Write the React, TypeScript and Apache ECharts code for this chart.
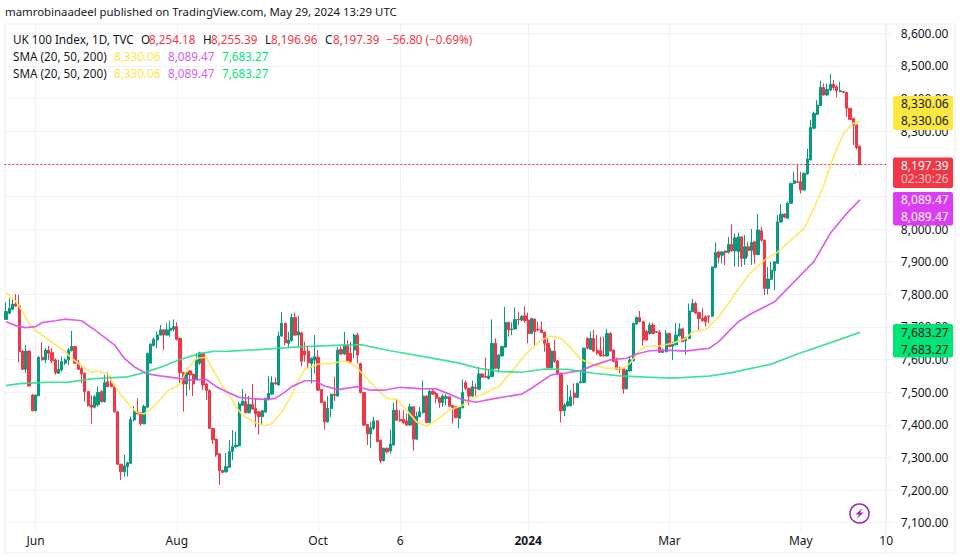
import React, { useEffect, useRef } from "react";
import * as echarts from "echarts";

// [open, close, low, high]
const candlesA = [
[7723,7747,7723,7775],[7742,7757,7739,7788],[7754,7770,7750,7788],[7770,7764,7762,7801],[7764,7624,7591,7798],[7626,7570,7568,7630],[7570,7626,7558,7645],[7626,7519,7517,7628],[7491,7443,7441,7495],[7443,7491,7441,7493],
[7489,7607,7487,7610],[7607,7599,7597,7653],[7599,7629,7589,7635],[7629,7619,7599,7642],[7621,7596,7589,7635],[7599,7560,7553,7604],[7558,7570,7556,7599],[7568,7594,7563,7609],[7589,7599,7583,7604],[7599,7629,7583,7635],
[7627,7640,7625,7688],[7640,7589,7586,7642],[7589,7570,7568,7599],[7573,7556,7527,7580],[7558,7502,7471,7560],[7502,7458,7456,7504],[7461,7454,7403,7491],[7454,7486,7450,7492],[7461,7499,7456,7517],[7502,7471,7468,7507],
[7471,7529,7468,7553],[7532,7517,7515,7560],[7527,7517,7515,7548],[7517,7440,7437,7519],[7440,7279,7277,7442],[7279,7256,7231,7281],[7256,7274,7241,7308],[7272,7284,7241,7287],[7282,7417,7280,7425],[7415,7440,7410,7458],
[7439,7433,7431,7481],[7437,7403,7397,7439],[7403,7456,7402,7461],[7454,7619,7452,7621],[7589,7647,7586,7650],[7643,7662,7640,7668],[7660,7675,7635,7686],[7675,7691,7674,7706],[7691,7675,7629,7693],[7675,7691,7674,7711],
[7689,7696,7670,7719],[7693,7701,7686,7723],[7701,7662,7658,7714],[7665,7560,7527,7667],[7560,7525,7440,7562],[7525,7560,7488,7563],[7565,7553,7507,7568],[7555,7525,7488,7558],[7539,7599,7537,7619],[7589,7621,7583,7624],
[7619,7522,7507,7621],[7525,7505,7476,7529],[7505,7389,7387,7509],[7389,7354,7341,7391],[7356,7308,7302,7358],[7311,7260,7216,7313],[7260,7254,7251,7262],[7256,7272,7253,7313],[7270,7318,7267,7354],[7318,7333,7292,7384],
[7333,7338,7328,7379],[7336,7464,7333,7471],
];
const candlesB = [
[7460,7473,7458,7510],[7471,7437,7435,7496],[7437,7463,7435,7488],[7463,7448,7447,7525],[7450,7433,7392,7481],[7440,7425,7369,7442],[7425,7443,7399,7445],[7439,7481,7437,7483],[7478,7496,7474,7549],[7494,7529,7491,7549],
[7529,7525,7523,7545],[7522,7672,7520,7685],[7672,7711,7670,7746],[7711,7652,7644,7713],[7650,7660,7639,7685],[7658,7729,7655,7741],[7729,7675,7672,7744],[7675,7685,7642,7733],[7682,7595,7580,7684],[7626,7614,7593,7655],
[7626,7590,7573,7641],[7588,7604,7527,7606],[7598,7609,7558,7675],[7607,7506,7504,7629],[7508,7468,7466,7510],[7470,7409,7386,7472],[7409,7450,7406,7488],[7450,7494,7423,7496],[7494,7490,7473,7547],[7488,7629,7486,7639],
[7631,7617,7614,7641],[7617,7644,7614,7685],[7644,7596,7590,7660],[7619,7593,7586,7655],[7629,7675,7604,7680],[7675,7614,7588,7682],[7588,7499,7496,7590],[7499,7399,7397,7501],[7401,7372,7338,7403],[7372,7391,7328,7409],
[7389,7412,7384,7425],[7412,7348,7347,7414],[7353,7290,7282,7355],[7290,7328,7287,7330],[7328,7317,7312,7331],[7320,7341,7312,7386],[7338,7445,7336,7468],[7445,7414,7412,7478],[7417,7412,7409,7445],[7416,7406,7404,7445],
[7412,7399,7396,7435],[7399,7455,7396,7464],[7455,7356,7320,7457],[7356,7427,7353,7440],[7425,7440,7423,7455],[7437,7488,7435,7535],[7488,7407,7406,7491],[7407,7503,7404,7508],[7503,7494,7491,7512],[7496,7481,7466,7501],
[7483,7468,7452,7486],[7468,7488,7455,7494],[7481,7486,7460,7494],[7486,7457,7455,7488],[7459,7453,7404,7460],[7455,7422,7420,7457],[7420,7453,7389,7455],[7452,7499,7450,7539],[7529,7512,7506,7535],[7512,7488,7460,7514],
];
const candlesC = [
[7488,7517,7486,7535],[7515,7512,7484,7527],[7509,7556,7507,7578],[7556,7546,7543,7558],[7548,7546,7543,7607],[7542,7550,7539,7570],[7548,7650,7546,7723],[7650,7573,7571,7665],[7573,7614,7560,7616],[7611,7640,7609,7642],
[7638,7714,7636,7762],[7714,7691,7670,7716],[7691,7694,7675,7714],[7694,7723,7691,7760],[7724,7722,7706,7745],[7721,7732,7716,7737],[7734,7719,7713,7764],[7721,7680,7650,7744],[7680,7726,7678,7728],[7724,7686,7642,7726],
[7693,7691,7686,7716],[7691,7683,7681,7716],[7684,7650,7624,7686],[7650,7575,7573,7665],[7575,7626,7573,7635],[7626,7594,7589,7660],[7596,7556,7553,7599],[7558,7443,7407,7560],[7443,7461,7427,7466],[7458,7471,7456,7522],
[7458,7486,7456,7507],[7497,7484,7461,7527],[7484,7527,7481,7529],[7529,7532,7527,7568],[7530,7635,7527,7637],[7665,7635,7631,7668],[7631,7665,7629,7686],[7665,7626,7624,7691],[7629,7619,7614,7675],[7627,7611,7609,7670],
[7614,7611,7609,7670],[7611,7680,7609,7694],[7680,7626,7624,7684],[7629,7594,7592,7631],[7596,7570,7568,7606],[7573,7571,7558,7578],[7573,7510,7495,7575],[7510,7568,7509,7570],[7565,7599,7563,7611],[7596,7711,7594,7713],
[7709,7729,7706,7732],[7729,7716,7714,7749],[7716,7660,7643,7718],[7686,7660,7657,7691],[7680,7706,7675,7714],[7706,7680,7678,7713],[7686,7684,7682,7688],[7684,7622,7621,7691],[7622,7627,7620,7635],[7624,7680,7622,7691],
[7680,7640,7637,7682],[7640,7647,7599,7655],[7645,7675,7643,7711],[7673,7694,7670,7711],[7694,7655,7653,7696],[7657,7667,7614,7670],[7665,7749,7662,7772],[7747,7772,7745,7786],[7772,7742,7740,7778],[7744,7726,7691,7746],
];
const candlesD = [
[7726,7719,7716,7757],[7731,7716,7701,7736],[7733,7731,7711,7735],[7733,7884,7731,7886],[7882,7928,7879,7959],[7930,7913,7895,7933],[7920,7930,7895,7933],[7933,7928,7890,7935],[7928,7953,7925,7976],[7953,7933,7930,8015],
[7933,7973,7884,7987],[7931,7976,7884,7989],[7976,7910,7884,7978],[7910,7946,7890,7982],[7946,7934,7915,7961],[7934,7959,7890,8000],[7961,7922,7895,7963],[7922,7997,7920,8046],[7995,7966,7961,8007],[7966,7818,7798,7968],
[7818,7847,7800,7884],[7846,7874,7844,7900],[7872,7900,7813,7902],[7895,8022,7893,8043],[8022,8046,8019,8077],[8046,8036,8033,8048],[8033,8079,8031,8084],[8079,8140,8077,8142],[8140,8148,8138,8176],[8145,8143,8142,8199],
[8145,8120,8109,8176],[8120,8171,8117,8173],[8169,8215,8166,8247],[8212,8311,8211,8334],[8309,8355,8306,8360],[8352,8380,8349,8395],[8378,8434,8377,8455],[8434,8411,8409,8446],[8411,8428,8409,8446],[8426,8444,8424,8475],
[8444,8434,8426,8457],[8436,8424,8404,8441],[8421,8424,8419,8452],[8421,8419,8416,8423],[8419,8370,8344,8421],[8370,8336,8334,8372],[8339,8319,8257,8341],[8319,8250,8244,8321],[8254.18,8197.39,8196.96,8255.39],
];

// [bar, value]
const sma20 = [
[0,7805],[3,7778],[5,7747],[7,7711],[9,7689],[13,7660],[18,7624],[20,7604],[23,7580],[26,7561],[28,7564],[31,7555],[33,7522],[35,7491],[38,7456],[40,7437],[42,7433],[45,7456],[49,7502],[53,7525],[55,7568],[58,7604],[61,7607],[63,7568],[66,7517],[68,7491],[70,7455],[72,7430],[76,7406],[79,7397],[81,7404],[84,7440],[87,7491],[89,7537],[91,7570],[95,7586],[99,7588],[103,7596],[106,7583],[109,7552],[113,7508],[116,7481],[119,7478],[122,7445],[125,7409],[128,7396],[131,7414],[135,7445],[139,7460],[143,7486],[146,7497],[148,7509],[150,7517],[154,7563],[158,7614],[163,7660],[166,7672],[169,7665],[172,7635],[175,7601],[179,7583],[183,7573],[188,7573],[190,7589],[193,7629],[195,7640],[199,7642],[203,7650],[207,7665],[209,7685],[213,7692],[217,7731],[220,7772],[223,7818],[227,7869],[231,7905],[235,7930],[239,7966],[243,8002],[246,8063],[249,8135],[252,8222],[255,8293],[258,8324],[260,8330.06],
];
const sma50 = [
[0,7716],[3,7704],[6,7698],[9,7701],[11,7713],[15,7719],[18,7724],[23,7719],[27,7691],[33,7645],[36,7604],[39,7578],[43,7556],[47,7550],[52,7543],[56,7537],[61,7539],[64,7517],[67,7502],[71,7484],[75,7480],[79,7478],[82,7481],[85,7501],[87,7517],[91,7535],[94,7535],[97,7519],[101,7508],[107,7517],[111,7506],[115,7506],[120,7515],[126,7511],[131,7510],[135,7494],[139,7477],[143,7469],[149,7481],[157,7494],[160,7512],[166,7553],[170,7558],[175,7566],[179,7583],[184,7599],[189,7604],[192,7617],[196,7627],[201,7629],[207,7626],[211,7631],[214,7634],[217,7655],[223,7716],[227,7741],[234,7777],[241,7849],[246,7900],[251,7987],[256,8048],[260,8089.47],
];
const sma200 = [
[0,7520],[4,7526],[12,7530],[19,7531],[26,7541],[37,7547],[43,7563],[48,7580],[53,7600],[59,7618],[63,7625],[68,7626],[78,7631],[89,7639],[102,7644],[108,7646],[117,7627],[129,7606],[138,7589],[144,7573],[151,7563],[157,7561],[164,7571],[171,7570],[179,7558],[187,7550],[195,7546],[203,7543],[214,7549],[221,7560],[233,7586],[241,7617],[250,7648],[260,7683.27],
];

const priceTicks = [8600,8500,8400,8300,8200,8100,8000,7900,7800,7700,7600,7500,7400,7300,7200,7100];
const timeTicks: [number, string][] = [[9,"Jun"],[52,"Aug"],[95,"Oct"],[120,"6"],[159,"2024"],[202,"Mar"],[242,"May"],[268,"10"]];
const barSlots = 269;
const lastClose = 8197.39;

const FONT = "'Noto Sans', sans-serif";
const INK = "#131722";
const GRID = "#f0f3fa";
const UP = "#089981";
const DOWN = "#F23645";
const YELLOW = "#FFE83D";
const PURPLE = "#DD3CF5";
const GREEN = "#00E676";

const tickLabelAt = new Map(timeTicks);
const categories = Array.from({ length: barSlots }, (_, i) => tickLabelAt.get(i) ?? String(i));
const isTick = (i: number) => tickLabelAt.has(i);

const txt = (x: number, y: number, text: string, fill: string, size = 12) => ({
  type: "text", x, y, z: 110,
  style: { text, fill, font: `${size}px ${FONT}`, textVerticalAlign: "middle" },
});
const tag = (y: number, h: number, fill: string) => ({
  type: "rect", z: 105, shape: { x: 893, y, width: 60, height: h, r: 2 }, style: { fill },
});
const hLine = (x1: number, y1: number, x2: number, y2: number, stroke: string) => ({
  type: "line", z: 1, shape: { x1, y1, x2, y2 }, style: { stroke, lineWidth: 1 },
});

export default function App() {
  const ref = useRef<HTMLDivElement>(null);
  useEffect(() => {
    const chart = echarts.init(ref.current!, undefined, { renderer: "svg" });
    const smaLine = (name: string, data: number[][], color: string) => ({
      name, type: "line", data, showSymbol: false, symbol: "none", smooth: false, z: 5,
      lineStyle: { color, width: 1.7, opacity: 0.9 }, silent: true,
    });
    chart.setOption({
      animation: false,
      backgroundColor: "#ffffff",
      grid: { left: 4.4, top: 24, width: 883.4, height: 509 },
      xAxis: {
        type: "category",
        data: categories,
        boundaryGap: true,
        axisLine: { show: false },
        axisTick: { show: false, alignWithLabel: true },
        axisLabel: {
          interval: (i: number) => isTick(i),
          margin: 1,
          hideOverlap: false,
          color: INK,
          fontFamily: FONT,
          fontSize: 12,
          formatter: (v: string) => (v === "2024" ? `{b|${v}}` : v),
          rich: { b: { fontWeight: "bold", fontFamily: FONT, fontSize: 12, color: INK } },
        },
        splitLine: {
          show: true,
          alignWithLabel: true,
          interval: (i: number) => isTick(i),
          lineStyle: { color: GRID, width: 1 },
        },
      },
      yAxis: {
        type: "value",
        position: "right",
        min: 7068.3,
        max: 8628.6,
        axisLine: { show: false },
        axisTick: { show: true, length: 5, customValues: priceTicks, lineStyle: { color: GRID } },
        axisLabel: {
          customValues: priceTicks,
          margin: 13,
          color: INK,
          fontFamily: FONT,
          fontSize: 12,
          formatter: (v: number) =>
            v.toLocaleString("en-US", { minimumFractionDigits: 2, maximumFractionDigits: 2 }),
        },
        splitLine: { show: true, lineStyle: { color: GRID, width: 1 } },
      },
      series: [
        {
          name: "UK 100 Index",
          type: "candlestick",
          data: [...candlesA, ...candlesB, ...candlesC, ...candlesD],
          barWidth: 2.7,
          z: 3,
          itemStyle: { color: UP, color0: DOWN, borderColor: UP, borderColor0: DOWN, borderWidth: 1 },
          markLine: {
            silent: true,
            symbol: "none",
            label: { show: false },
            lineStyle: { color: DOWN, type: [2, 2], width: 1 },
            data: [{ yAxis: lastClose }],
          },
        },
        smaLine("SMA 20", sma20, "#FFE75C"),
        smaLine("SMA 50", sma50, "#D94FEA"),
        smaLine("SMA 200", sma200, "#2FDD8F"),
      ],
      graphic: [
        { type: "rect", z: 1, shape: { x: 5, y: 24, width: 950, height: 529 }, style: { fill: "none", stroke: "#e9ebf0", lineWidth: 1 } },
        hLine(886, 24, 886, 553, "#e9ebf0"),
        txt(5, 11, "mamrobinaadeel published on TradingView.com, May 29, 2024 13:29 UTC", INK, 11.4),
        txt(13, 39, "UK 100 Index, 1D, TVC", INK, 11.7),
        txt(141, 39, "O", INK, 11.7), txt(149, 39, "8,254.18", DOWN, 11.7),
        txt(203, 39, "H", INK, 11.7), txt(211, 39, "8,255.39", DOWN, 11.7),
        txt(265, 39, "L", INK, 11.7), txt(271, 39, "8,196.96", DOWN, 11.7),
        txt(325, 39, "C", INK, 11.7), txt(333, 39, "8,197.39", DOWN, 11.7),
        txt(386, 39, "\u221256.80 (\u22120.69%)", DOWN, 11.7),
        ...[56, 73].flatMap((y) => [
          txt(13, y, "SMA (20, 50, 200)", INK, 11.7),
          txt(114, y, "8,330.06", "#FFE54A", 11.7),
          txt(168, y, "8,089.47", "#CE62F0", 11.7),
          txt(222, y, "7,683.27", GREEN, 11.7),
        ]),
        tag(96, 34, YELLOW), tag(157.5, 30.5, DOWN), tag(192, 33.5, PURPLE), tag(324, 33.5, GREEN),
        txt(901, 103.5, "8,330.06", INK), txt(901, 120.5, "8,330.06", INK),
        txt(901, 165, "8,197.39", "#ffffff"), txt(901, 178.5, "02:30:26", "#ffc4c9"),
        txt(901, 199.5, "8,089.47", "#ffffff"), txt(901, 216.5, "8,089.47", "#ffffff"),
        txt(901, 332, "7,683.27", INK), txt(901, 349, "7,683.27", INK),
        { type: "circle", z: 110, shape: { cx: 859.5, cy: 513.5, r: 9.5 }, style: { fill: "#ffffff", stroke: "#9C27B0", lineWidth: 1.5 } },
        { type: "polygon", z: 111, shape: { points: [[862.5, 508], [855.5, 514.5], [859, 514.5], [856.5, 519], [863.5, 512.5], [860, 512.5]] }, style: { fill: "#9C27B0" } },
      ],
    });
    return () => chart.dispose();
  }, []);
  return <div ref={ref} style={{ position: "fixed", left: 0, top: 0, width: 962, height: 557, background: "#fff" }} />;
}
